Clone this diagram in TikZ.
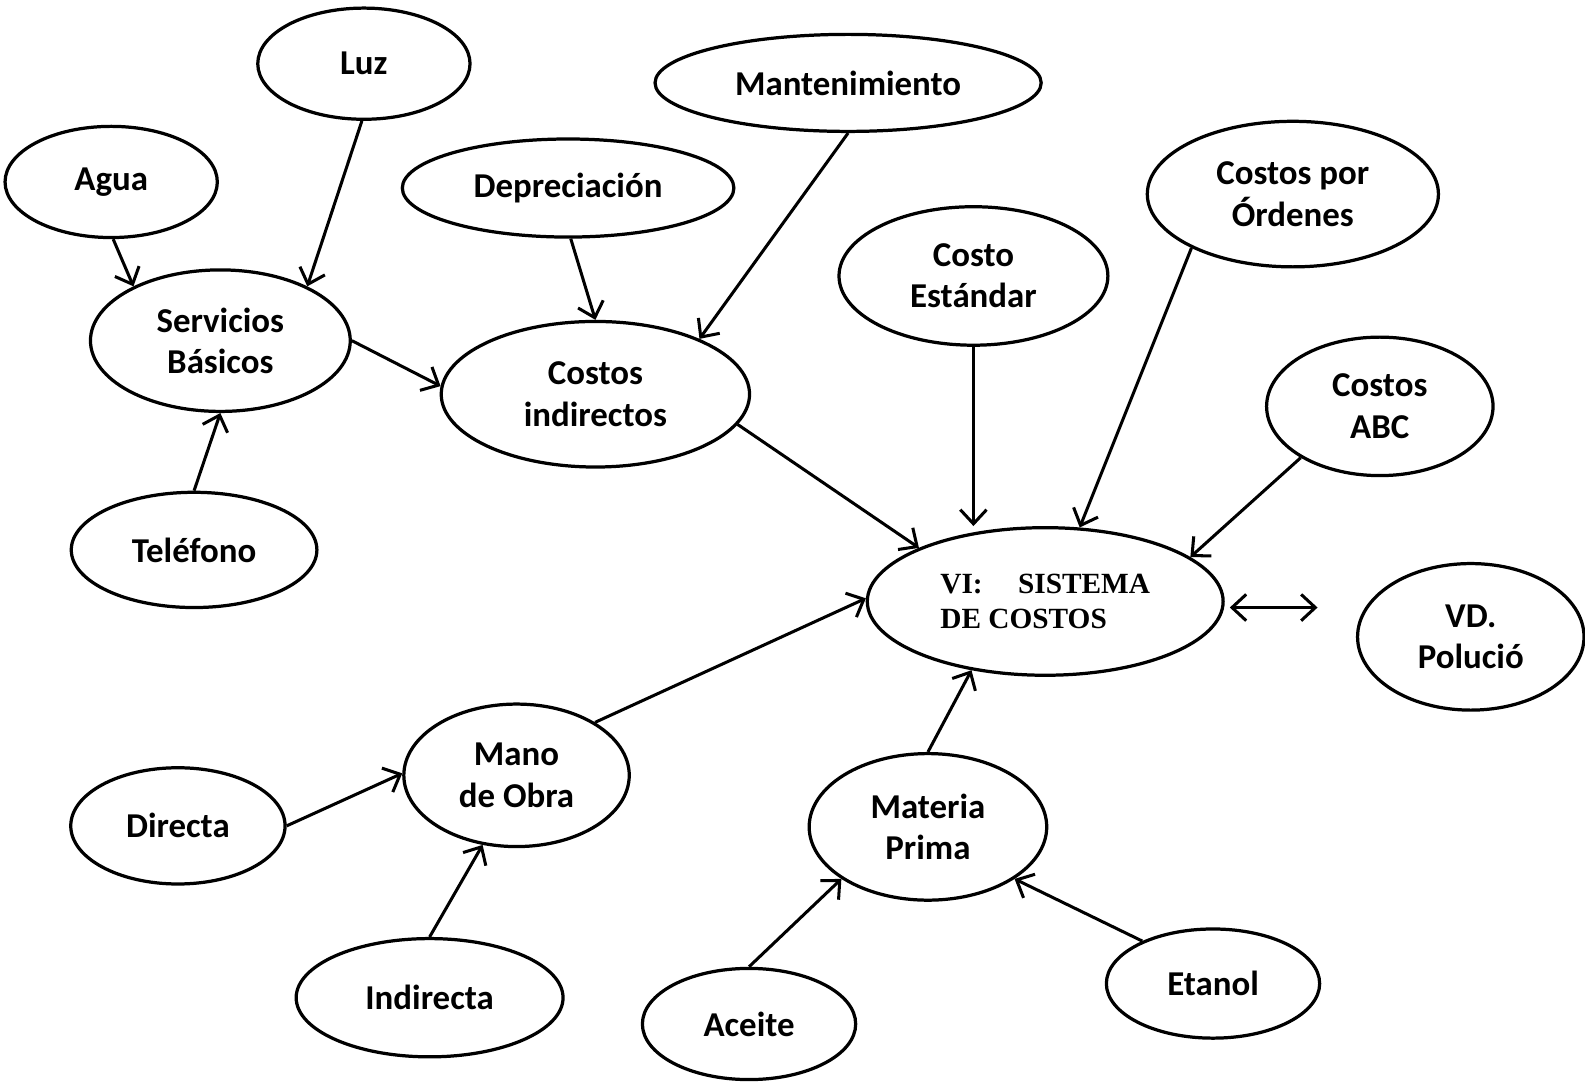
\documentclass[tikz,border=0pt]{standalone}
\usepackage{fontspec}
\setmainfont{Carlito}
\newfontfamily\timesfam{Liberation Serif}
\usetikzlibrary{shapes.geometric,arrows.meta}

\tikzset{
  oval/.style={ellipse, draw, line width=3.2pt, inner sep=0pt, align=center,
    font=\fontsize{34.5}{41}\selectfont\bfseries},
  tip/.style={Straight Barb[length=14pt,width=26pt]},
  link/.style={line width=3pt, -{Straight Barb[length=14pt,width=26pt]}},
  bothlink/.style={line width=3pt, {Straight Barb[length=14pt,width=26pt]}-{Straight Barb[length=14pt,width=26pt]}}
}

\begin{document}
\begin{tikzpicture}[x=1pt,y=-1pt]
\useasboundingbox (0,0) rectangle (1568,1072);

% concepts
\node[oval, minimum width=210, minimum height=110] (luz)  at (360,63)  {Luz};
\node[oval, minimum width=210, minimum height=110] (agua) at (110,180) {Agua};
\node[oval, minimum width=382, minimum height=96]  (mant) at (839,82)  {Mantenimiento};
\node[oval, minimum width=328, minimum height=97]  (dep)  at (562,186) {Depreciación};
\node[oval, minimum width=288, minimum height=144] (ord)  at (1279,192) {Costos por\\Órdenes};
\node[oval, minimum width=266, minimum height=137] (est)  at (963,273) {Costo\\Estándar};
\node[oval, minimum width=257, minimum height=140] (serv) at (218,337) {Servicios\\Básicos};
\node[oval, minimum width=305, minimum height=144] (cind) at (589,390) {Costos\\indirectos};
\node[oval, minimum width=224, minimum height=137] (abc)  at (1365,402) {Costos\\ABC};
\node[oval, minimum width=243, minimum height=114] (tel)  at (192,544) {Teléfono};
\node[oval, minimum width=352, minimum height=146, align=left,
      font=\timesfam\fontsize{29}{35}\selectfont\bfseries] (vi) at (1034,595)
      {VI:\hspace{35pt}SISTEMA\\DE COSTOS};
\node[oval, minimum width=224, minimum height=145] (vd)   at (1455,630) {VD.\\Polució};
\node[oval, minimum width=223, minimum height=141] (mano) at (511,767) {Mano\\de Obra};
\node[oval, minimum width=212, minimum height=115] (dir)  at (176,817) {Directa};
\node[oval, minimum width=235, minimum height=145] (mat)  at (918,818) {Materia\\Prima};
\node[oval, minimum width=264, minimum height=117] (ind)  at (425,987) {Indirecta};
\node[oval, minimum width=211, minimum height=110] (ace)  at (741,1013) {Aceite};
\node[oval, minimum width=211, minimum height=108] (eta)  at (1200,973) {Etanol};

% connectors
\draw[link] (agua.-88) -- (serv.148);
\draw[link] (luz.-92) -- (serv.32);
\draw[link] (tel.north) -- (serv.south);
\draw[link] (serv.0) -- (cind.177);
\draw[link] (dep.-87) -- (cind.90);
\draw[link] (mant.-90) -- (cind.28);
\draw[link] (cind.-12) -- (vi.157);
\draw[link] (est.south) -- (est.south |- vi.north);
\draw[link] (ord.-152) -- (vi.65);
\draw[link] (abc.-147) -- (vi.17);
\draw[bothlink] ([shift={(5,6)}]vi.east) -- ([shift={(-38,-29)}]vd.west);
\draw[link] (mano.34) -- (vi.179);
\draw[link] (dir.0) -- (mano.179);
\draw[link] (ind.north) -- (mano.-116);
\draw[link] (mat.north) -- (vi.-137);
\draw[link] (ace.north) -- (mat.-149);
\draw[link] (eta.149) -- (mat.-31);
\end{tikzpicture}
\end{document}
